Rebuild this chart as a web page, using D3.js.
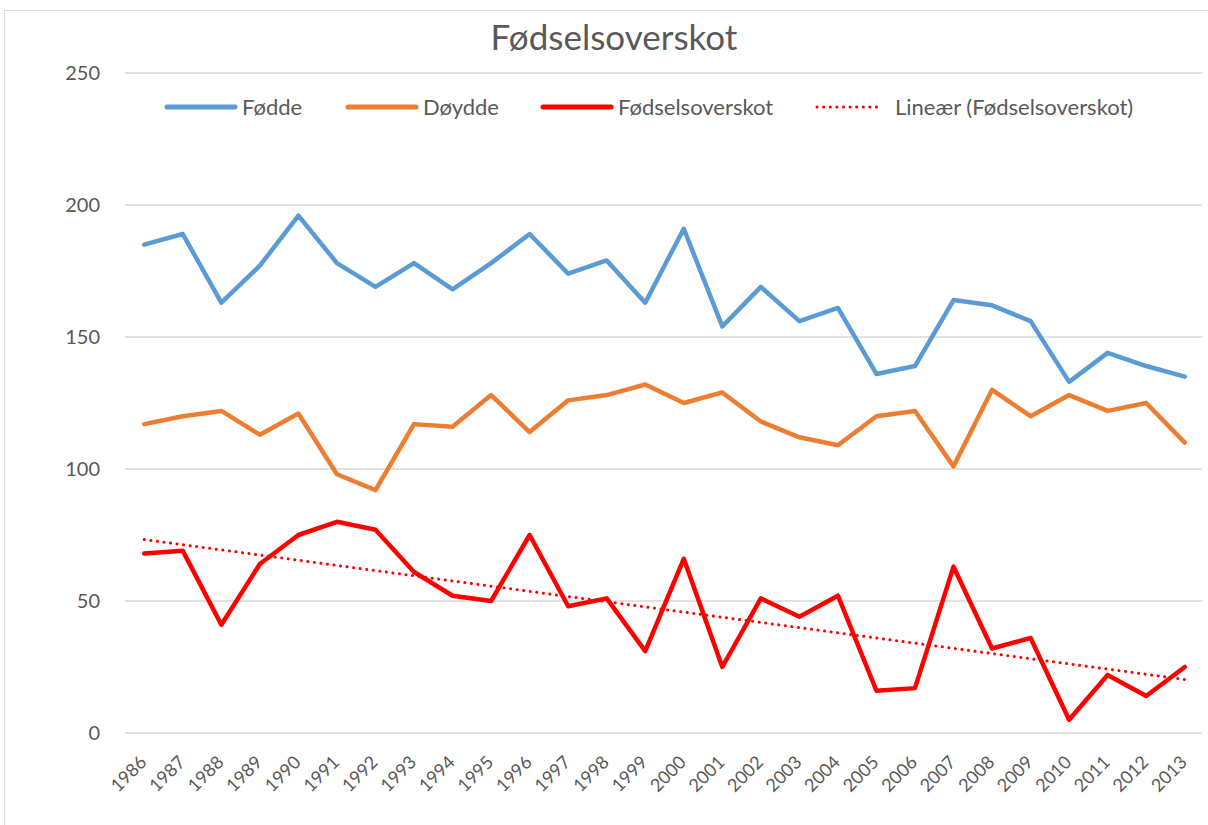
<!DOCTYPE html>
<html>
<head>
<meta charset="utf-8">
<script src="https://cdn.jsdelivr.net/npm/d3@7"></script>
<style>
  body { margin: 0; background: #fff; }
  svg { display: block; font-family: Lato, "Open Sans", sans-serif; }
</style>
</head>
<body>
<svg width="1208" height="825"></svg>
<script>
var years = [1986, 1987, 1988, 1989, 1990, 1991, 1992, 1993, 1994, 1995, 1996, 1997, 1998, 1999,
    2000, 2001, 2002, 2003, 2004, 2005, 2006, 2007, 2008, 2009, 2010, 2011, 2012, 2013];
var fodde = [185, 189, 163, 177, 196, 178, 169, 178, 168, 178, 189, 174, 179, 163,
    191, 154, 169, 156, 161, 136, 139, 164, 162, 156, 133, 144, 139, 135];
var doydde = [117, 120, 122, 113, 121, 98, 92, 117, 116, 128, 114, 126, 128, 132,
    125, 129, 118, 112, 109, 120, 122, 101, 130, 120, 128, 122, 125, 110];
var overskot = [68, 69, 41, 64, 75, 80, 77, 61, 52, 50, 75, 48, 51, 31,
    66, 25, 51, 44, 52, 16, 17, 63, 32, 36, 5, 22, 14, 25];
var yTicks = [0, 50, 100, 150, 200, 250];

var svg = d3.select("svg");
var margin = {left: 125, right: 4, top: 73, bottom: 92};
var width = 1208, height = 825;

// chart border
svg.append("rect")
    .attr("x", 4.5).attr("y", 10.5)
    .attr("width", 1210).attr("height", 820)
    .attr("fill", "none").attr("stroke", "#d9d9d9");

var x = d3.scaleBand()
    .domain(years)
    .range([margin.left, width - margin.right]);

var y = d3.scaleLinear()
    .domain([0, 250])
    .range([height - margin.bottom, margin.top]);

// gridlines
svg.append("g")
    .selectAll("line")
    .data(yTicks)
    .enter().append("line")
    .attr("x1", margin.left)
    .attr("x2", width - margin.right - 2)
    .attr("y1", function(d) { return y(d); })
    .attr("y2", function(d) { return y(d); })
    .attr("stroke", "#d9d9d9")
    .attr("stroke-width", 1.5);

// y labels
svg.append("g")
    .selectAll("text")
    .data(yTicks)
    .enter().append("text")
    .attr("x", 100)
    .attr("y", function(d) { return y(d); })
    .attr("dy", "0.35em")
    .attr("text-anchor", "end")
    .attr("fill", "#595959")
    .attr("font-size", 20)
    .text(function(d) { return d; });

// x labels
svg.append("g")
    .selectAll("text")
    .data(years)
    .enter().append("text")
    .attr("transform", function(d) {
        return "translate(" + (x(d) + x.bandwidth() / 2 - 1) + "," + (height - margin.bottom + 26) + ") rotate(-45)";
    })
    .attr("text-anchor", "end")
    .attr("dy", "0.35em")
    .attr("fill", "#595959")
    .attr("font-size", 18)
    .text(function(d) { return d; });

function cx(i) { return x(years[i]) + x.bandwidth() / 2; }

var line = d3.line()
    .x(function(d, i) { return cx(i); })
    .y(function(d) { return y(d); });

// linear trend of overskot
var n = overskot.length;
var mx = d3.mean(d3.range(n)), my = d3.mean(overskot);
var slope = d3.sum(d3.range(n), function(i) { return (i - mx) * (overskot[i] - my); }) /
    d3.sum(d3.range(n), function(i) { return (i - mx) * (i - mx); });
var icpt = my - slope * mx;

var series = [
    {name: "Fødde", values: fodde, color: "#5b9bd5"},
    {name: "Døydde", values: doydde, color: "#ed7d31"},
    {name: "Fødselsoverskot", values: overskot, color: "#ff0000"}
];

svg.append("g")
    .selectAll("path")
    .data(series)
    .enter().append("path")
    .attr("d", function(d) { return line(d.values); })
    .attr("fill", "none")
    .attr("stroke", function(d) { return d.color; })
    .attr("stroke-width", 4.5)
    .attr("stroke-linejoin", "round")
    .attr("stroke-linecap", "round");

svg.append("line")
    .attr("x1", cx(0)).attr("y1", y(icpt))
    .attr("x2", cx(n - 1)).attr("y2", y(icpt + slope * (n - 1)))
    .attr("stroke", "#ff0000")
    .attr("stroke-width", 3)
    .attr("stroke-linecap", "round")
    .attr("stroke-dasharray", "0.1 6.5");

// title
svg.append("text")
    .attr("x", 614).attr("y", 50)
    .attr("text-anchor", "middle")
    .attr("fill", "#595959")
    .attr("font-size", 35)
    .text("Fødselsoverskot");

// legend
var legend = [
    {name: "Fødde", color: "#5b9bd5", x: 167, dotted: false},
    {name: "Døydde", color: "#ed7d31", x: 348, dotted: false},
    {name: "Fødselsoverskot", color: "#ff0000", x: 543, dotted: false},
    {name: "Lineær (Fødselsoverskot)", color: "#ff0000", x: 817, dotted: true}
];
var lg = svg.append("g").selectAll("g")
    .data(legend)
    .enter().append("g")
    .attr("transform", function(d) { return "translate(" + d.x + ",107)"; });
lg.append("line")
    .attr("x1", 0).attr("x2", function(d) { return d.dotted ? 63 : 68; })
    .attr("stroke", function(d) { return d.color; })
    .attr("stroke-width", function(d) { return d.dotted ? 3 : 5; })
    .attr("stroke-linecap", "round")
    .attr("stroke-dasharray", function(d) { return d.dotted ? "0.1 6.5" : null; });
lg.append("text")
    .attr("x", function(d) { return d.dotted ? 78 : 75; })
    .attr("dy", "0.35em")
    .attr("fill", "#595959")
    .attr("font-size", 22)
    .text(function(d) { return d.name; });
</script>
</body>
</html>
